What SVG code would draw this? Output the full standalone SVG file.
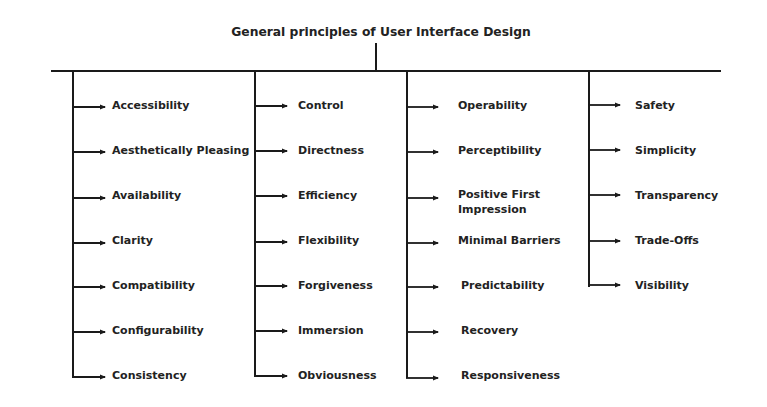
<svg xmlns="http://www.w3.org/2000/svg" width="767" height="407" viewBox="0 0 767 407">
<style>
.ln{stroke:#1a1a1a;stroke-width:2;fill:none}
.ar{stroke:#1a1a1a;stroke-width:1.8;fill:none;marker-end:url(#ah)}
.lb{font-family:"DejaVu Sans",sans-serif;font-weight:bold;font-size:11px;fill:#222}
.tt{font-family:"DejaVu Sans",sans-serif;font-weight:bold;font-size:12.3px;fill:#222}
</style>
<defs>
<marker id="ah" viewBox="0 0 6 6" refX="5" refY="3" markerWidth="6" markerHeight="6" markerUnits="userSpaceOnUse" orient="auto">
<path d="M0,0.5 L6,3 L0,5.5 Z" fill="#1a1a1a"/>
</marker>
</defs>
<rect width="767" height="407" fill="#fff"/>
<g id="title"><text class="tt" x="381" y="36" text-anchor="middle">General principles of User Interface Design</text></g>
<g id="connectors">
<line class="ln" x1="376" y1="43" x2="376" y2="71"/>
<line class="ln" x1="51" y1="71" x2="721" y2="71"/>
<path class="ln" d="M73,71 V377"/>
<path class="ln" d="M255,71 V377"/>
<path class="ln" d="M407,71 V378"/>
<path class="ln" d="M589,71 V287"/>
<line class="ar" x1="72" y1="107" x2="105" y2="107"/>
<line class="ar" x1="72" y1="152" x2="105" y2="152"/>
<line class="ar" x1="72" y1="198" x2="105" y2="198"/>
<line class="ar" x1="72" y1="243" x2="105" y2="243"/>
<line class="ar" x1="72" y1="287" x2="105" y2="287"/>
<line class="ar" x1="72" y1="332" x2="105" y2="332"/>
<line class="ar" x1="72" y1="377" x2="105" y2="377"/>
<line class="ar" x1="254" y1="106" x2="287" y2="106"/>
<line class="ar" x1="254" y1="151" x2="287" y2="151"/>
<line class="ar" x1="254" y1="196" x2="287" y2="196"/>
<line class="ar" x1="254" y1="242" x2="287" y2="242"/>
<line class="ar" x1="254" y1="286" x2="287" y2="286"/>
<line class="ar" x1="254" y1="331" x2="287" y2="331"/>
<line class="ar" x1="254" y1="376" x2="287" y2="376"/>
<line class="ar" x1="406" y1="107" x2="438" y2="107"/>
<line class="ar" x1="406" y1="152" x2="438" y2="152"/>
<line class="ar" x1="406" y1="198" x2="438" y2="198"/>
<line class="ar" x1="406" y1="243" x2="438" y2="243"/>
<line class="ar" x1="406" y1="287" x2="438" y2="287"/>
<line class="ar" x1="406" y1="332" x2="438" y2="332"/>
<line class="ar" x1="406" y1="378" x2="438" y2="378"/>
<line class="ar" x1="588" y1="105" x2="620" y2="105"/>
<line class="ar" x1="588" y1="150" x2="620" y2="150"/>
<line class="ar" x1="588" y1="195" x2="620" y2="195"/>
<line class="ar" x1="588" y1="241" x2="620" y2="241"/>
<line class="ar" x1="588" y1="285" x2="620" y2="285"/>
</g>
<g id="col1">
<text class="lb" x="112" y="109">Accessibility</text>
<text class="lb" x="112" y="154">Aesthetically Pleasing</text>
<text class="lb" x="112" y="199">Availability</text>
<text class="lb" x="112" y="244">Clarity</text>
<text class="lb" x="112" y="289">Compatibility</text>
<text class="lb" x="112" y="334">Configurability</text>
<text class="lb" x="112" y="379">Consistency</text>
</g>
<g id="col2">
<text class="lb" x="298" y="109">Control</text>
<text class="lb" x="298" y="154">Directness</text>
<text class="lb" x="298" y="199">Efficiency</text>
<text class="lb" x="298" y="244">Flexibility</text>
<text class="lb" x="298" y="289">Forgiveness</text>
<text class="lb" x="298" y="334">Immersion</text>
<text class="lb" x="298" y="379">Obviousness</text>
</g>
<g id="col3">
<text class="lb" x="458" y="109">Operability</text>
<text class="lb" x="458" y="154">Perceptibility</text>
<text class="lb" x="458" y="198">Positive First</text>
<text class="lb" x="458" y="213">Impression</text>
<text class="lb" x="458" y="244">Minimal Barriers</text>
<text class="lb" x="461" y="289">Predictability</text>
<text class="lb" x="461" y="334">Recovery</text>
<text class="lb" x="461" y="379">Responsiveness</text>
</g>
<g id="col4">
<text class="lb" x="635" y="109">Safety</text>
<text class="lb" x="635" y="154">Simplicity</text>
<text class="lb" x="635" y="199">Transparency</text>
<text class="lb" x="635" y="244">Trade-Offs</text>
<text class="lb" x="635" y="289">Visibility</text>
</g>
</svg>
